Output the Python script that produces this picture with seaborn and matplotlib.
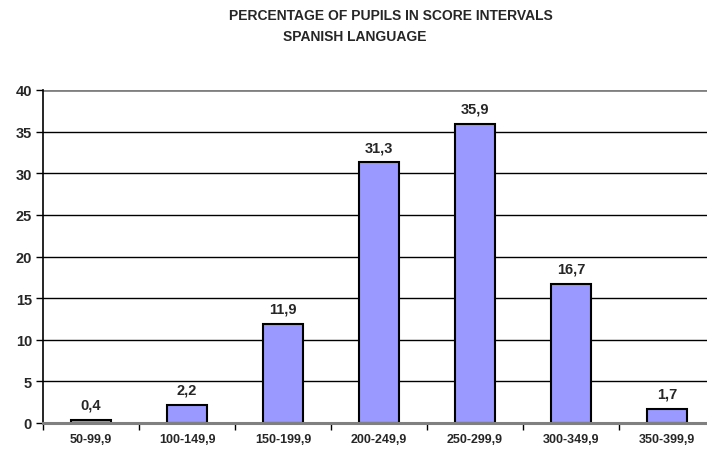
import matplotlib
matplotlib.use("Agg")
import matplotlib.pyplot as plt
import seaborn as sns
import pandas as pd
import numpy as np

intervals = ["50-99,9", "100-149,9", "150-199,9", "200-249,9",
             "250-299,9", "300-349,9", "350-399,9"]
percentages = [0.4, 2.2, 11.9, 31.3, 35.9, 16.7, 1.7]
bar_labels = ["0,4", "2,2", "11,9", "31,3", "35,9", "16,7", "1,7"]
y_ticks = [0, 5, 10, 15, 20, 25, 30, 35, 40]

sns.set_theme(style="white")
plt.rcParams["font.family"] = ["Liberation Sans", "DejaVu Sans"]

df = pd.DataFrame({"interval": intervals, "pct": percentages})

fig = plt.figure(figsize=(7.07, 4.56), dpi=100)
ax = fig.add_axes([43 / 707, 32 / 456, 672 / 707, 333 / 456])

sns.barplot(data=df, x="interval", y="pct", ax=ax, width=0.41,
            color="#9999FF", saturation=1, edgecolor="black", linewidth=1.5,
            zorder=3)

ax.set_ylim(0, 40)
ax.set_xlim(-0.5, len(intervals) - 0.5)

# horizontal grid lines
for yv in y_ticks[1:-1]:
    ax.axhline(yv, color="black", linewidth=1.0, zorder=1)
ax.axhline(40, color="#808080", linewidth=2.0, zorder=1)

for s in ["top", "right"]:
    ax.spines[s].set_visible(False)
ax.spines["left"].set_color("black")
ax.spines["left"].set_linewidth(1.2)
ax.spines["bottom"].set_color("#808080")
ax.spines["bottom"].set_linewidth(2.2)
ax.spines["bottom"].set_zorder(4)

ax.set_yticks(y_ticks)
ax.set_yticklabels([str(v) for v in y_ticks], fontsize=10.5, fontweight="bold")
ax.tick_params(axis="y", direction="out", length=5, width=1, color="black",
               left=True, pad=3)

ax.set_xticks(range(len(intervals)))
ax.set_xticklabels(intervals, fontsize=9, fontweight="bold")
ax.tick_params(axis="x", which="major", length=0, pad=7)
ax.set_xticks(np.arange(-0.5, len(intervals) - 0.5, 1.0), minor=True)
ax.tick_params(axis="x", which="minor", direction="out", length=5, width=1,
               color="black", bottom=True)

ax.set_xlabel("")
ax.set_ylabel("")

for i, (v, lab) in enumerate(zip(percentages, bar_labels)):
    ax.annotate(lab, (i, v), xytext=(0, 6), textcoords="offset points",
                ha="center", va="bottom", fontsize=10.5, fontweight="bold",
                zorder=5)

fig.text(391 / 707, 1 - 16 / 456, "PERCENTAGE OF PUPILS IN SCORE INTERVALS",
         ha="center", va="center", fontsize=10, fontweight="bold")
fig.text(355 / 707, 1 - 37 / 456, "SPANISH LANGUAGE",
         ha="center", va="center", fontsize=10, fontweight="bold")

fig.savefig("out.png", dpi=100)
